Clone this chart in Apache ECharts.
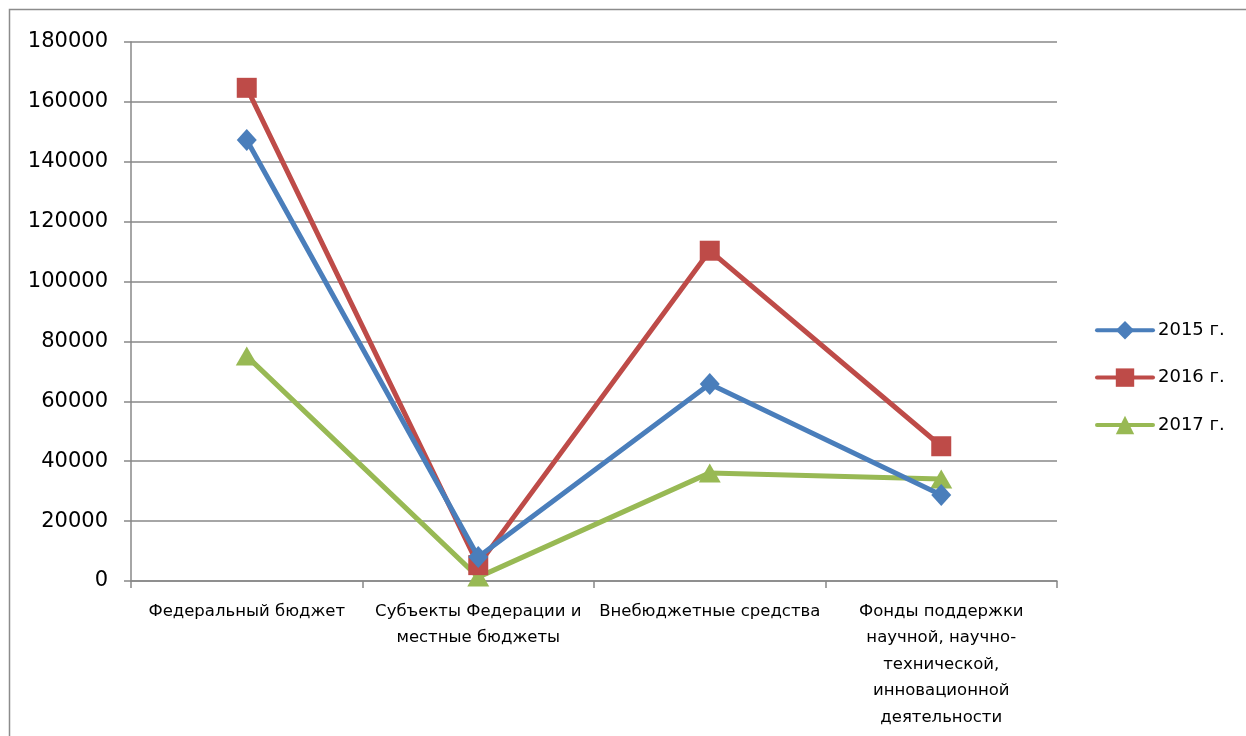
<!DOCTYPE html>
<html><head><meta charset="utf-8">
<script src="https://cdn.jsdelivr.net/npm/echarts@6/dist/echarts.min.js"></script>
<style>html,body{margin:0;padding:0;background:#fff}#c{width:1246px;height:736px}</style>
</head><body><div id="c"></div>
<script>
const categories = ["Федеральный бюджет", "Субъекты Федерации и\nместные бюджеты", "Внебюджетные средства", "Фонды поддержки\nнаучной, научно-\nтехнической,\nинновационной\nдеятельности"];
const seriesNames = ["2015 г.", "2016 г.", "2017 г."];
const v2015 = [147300, 8000, 65800, 28700];
const v2016 = [164700, 5300, 110300, 45000];
const v2017 = [75100, 1300, 36100, 34100];
const yTicks = [0, 20000, 40000, 60000, 80000, 100000, 120000, 140000, 160000, 180000];

const colors = ["#4a7ebb", "#be4b48", "#98b954"];
const symbols = ["diamond", "rect", "triangle"];
const sizes = [[20, 22], [20, 20], [22, 19]];
const values = [v2015, v2016, v2017];
const font = "'DejaVu Sans', sans-serif";

const chart = echarts.init(document.getElementById('c'));
chart.setOption({
  animation: false,
  graphic: [{type: 'rect', shape: {x: 9.5, y: 9.5, width: 1300, height: 800}, style: {fill: 'none', stroke: '#8c8c8c', lineWidth: 1.5}, z: -1}],
  grid: {left: 131, right: 189, top: 42, bottom: 155},
  legend: {
    orient: 'vertical', left: 1090, top: 316, itemGap: 29, itemWidth: 56, itemHeight: 23,
    lineStyle: {width: 4, cap: 'round'},
    textStyle: {fontFamily: font, fontSize: 18, color: '#000'},
    data: seriesNames
  },
  xAxis: {
    type: 'category', data: categories, boundaryGap: true,
    axisLine: {lineStyle: {color: '#888', width: 1.5}},
    axisTick: {show: true, length: 7, lineStyle: {color: '#888', width: 1.5}},
    axisLabel: {interval: 0, margin: 17, fontFamily: font, fontSize: 16.5, color: '#000', lineHeight: 26.5}
  },
  yAxis: {
    type: 'value', min: 0, max: 180000, interval: 20000,
    axisLine: {show: true, lineStyle: {color: '#888', width: 1.5}},
    axisTick: {show: true, length: 7, lineStyle: {color: '#888', width: 1.5}},
    splitLine: {lineStyle: {color: '#888', width: 1.5}},
    axisLabel: {margin: 23, fontFamily: font, fontSize: 21, color: '#000',
      formatter: v => yTicks.includes(v) ? String(v) : ''}
  },
  series: values.map((d, i) => ({
    name: seriesNames[i], type: 'line', data: d,
    symbol: symbols[i], symbolSize: sizes[i], showAllSymbol: true,
    lineStyle: {color: colors[i], width: 5},
    itemStyle: {color: colors[i]},
    z: 3 - i
  }))
});
</script></body></html>
